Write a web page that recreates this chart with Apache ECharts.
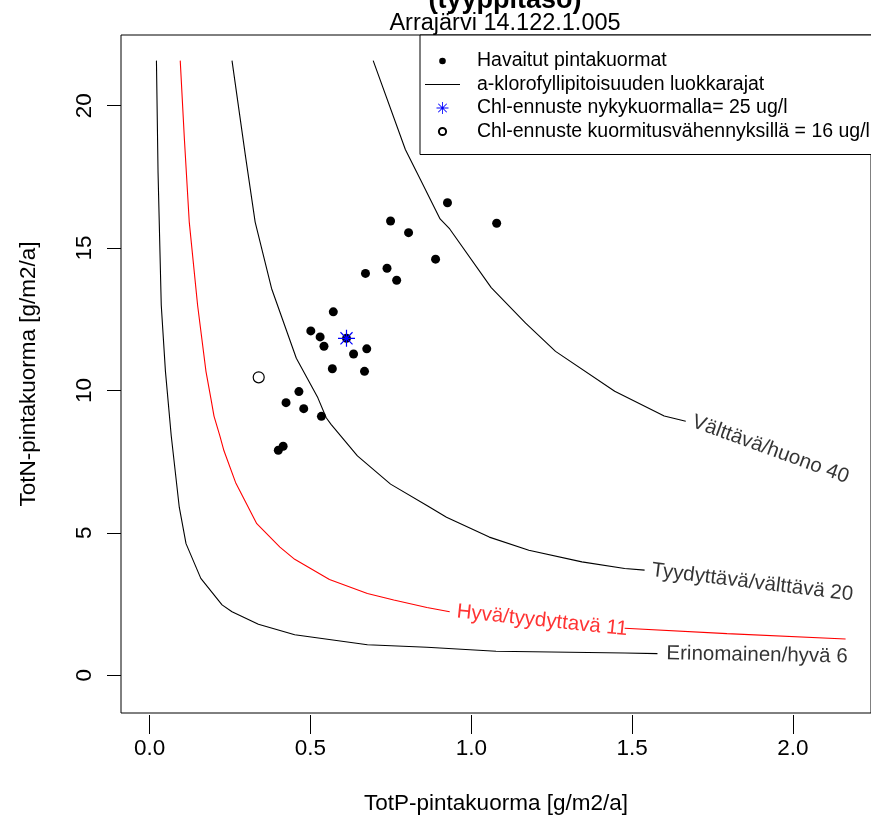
<!DOCTYPE html>
<html>
<head>
<meta charset="utf-8">
<script src="https://cdn.jsdelivr.net/npm/echarts@6/dist/echarts.min.js"></script>
<style>
  html, body { margin: 0; padding: 0; background: #fff; }
  #main { width: 871px; height: 820px; }
</style>
</head>
<body>
<div id="main"></div>
<script>
// havaitut pintakuormat (TotP, TotN)
var obsP = [0.926, 0.749, 0.805, 1.079, 0.889, 0.671, 0.738, 0.768, 0.571, 0.501, 0.530, 0.542,
            0.634, 0.675, 0.568, 0.668, 0.464, 0.424, 0.479, 0.534, 0.400, 0.415, 0.612];
var obsN = [16.59, 15.95, 15.54, 15.87, 14.61, 14.11, 14.29, 13.87, 12.76, 12.09, 11.88, 11.55,
            11.28, 11.46, 10.76, 10.67, 9.96, 9.57, 9.36, 9.09, 7.90, 8.04, 11.83];

// ennusteet
var nowPoint = [0.612, 11.83];
var reducedPoint = [0.339, 10.46];

// luokkarajat (contour lines)
var curve6 = [[0.021, 21.58], [0.026, 17.65], [0.036, 12.99], [0.049, 10.67], [0.067, 8.41],
  [0.092, 5.90], [0.113, 4.62], [0.159, 3.40], [0.225, 2.47], [0.256, 2.23], [0.338, 1.79],
  [0.451, 1.42], [0.677, 1.07], [0.862, 0.98], [1.077, 0.84], [1.477, 0.78], [1.579, 0.76]];
var curve11a = [[0.095, 21.58], [0.108, 18.81], [0.123, 15.92], [0.149, 12.99], [0.175, 10.67],
  [0.190, 9.74], [0.200, 9.10], [0.218, 8.41], [0.231, 7.88], [0.267, 6.77], [0.333, 5.32],
  [0.405, 4.50], [0.451, 4.07], [0.559, 3.36], [0.677, 2.87], [0.759, 2.64], [0.862, 2.38],
  [0.933, 2.23]];
var curve11b = [[1.477, 1.65], [1.795, 1.46], [2.164, 1.27]];
var curve20 = [[0.256, 21.58], [0.298, 18.22], [0.328, 15.91], [0.379, 13.58], [0.456, 11.13],
  [0.523, 9.74], [0.549, 9.04], [0.564, 8.81], [0.646, 7.70], [0.749, 6.71], [0.862, 5.96],
  [0.923, 5.55], [1.056, 4.85], [1.179, 4.39], [1.344, 3.98], [1.477, 3.75], [1.539, 3.69]];
var curve40 = [[0.695, 21.58], [0.795, 18.46], [0.841, 17.42], [0.903, 16.02], [0.933, 15.67],
  [1.062, 13.61], [1.169, 12.36], [1.262, 11.37], [1.446, 9.97], [1.600, 9.10], [1.667, 8.92]];

// käyrien nimet ja paikat
var curveLabels = ["Erinomainen/hyvä 6", "Hyvä/tyydyttavä 11", "Tyydyttävä/välttävä 20", "Välttävä/huono 40"];
var labelAt = [[1.579, 0.76], [0.933, 2.23], [1.539, 3.69], [1.667, 8.92]];
var labelAngle = [-1, -6, -7, -20];

var xTicks = [0, 0.5, 1, 1.5, 2];
var yTicks = [0, 5, 10, 15, 20];

var legendNames = ["Havaitut pintakuormat", "a-klorofyllipitoisuuden luokkarajat",
  "Chl-ennuste nykykuormalla= 25 ug/l", "Chl-ennuste kuormitusvähennyksillä = 16 ug/l"];

var FONT = "Liberation Sans, Arial, sans-serif";
var starPath = "path://M-0.07,-1 L0.07,-1 L0.07,1 L-0.07,1 Z M-1,-0.07 L1,-0.07 L1,0.07 L-1,0.07 Z " +
  "M-0.66,-0.76 L0.76,0.66 L0.66,0.76 L-0.76,-0.66 Z M0.66,-0.76 L0.76,-0.66 L-0.66,0.76 L-0.76,0.66 Z";
// pienempi pallo legendaan (tyhjät kulmapisteet kasvattavat rajausta)
var smallDot = "path://M-1,-1 L-1,-1 M1,1 L1,1 M0.55,0 A0.55,0.55 0 1 1 -0.55,0 A0.55,0.55 0 1 1 0.55,0 Z";
var smallRing = "path://M-1,-1 L-1,-1 M1,1 L1,1 M0.6,0 A0.6,0.6 0 1 1 -0.6,0 A0.6,0.6 0 1 1 0.6,0 Z";

var obsData = [];
for (var i = 0; i < obsP.length; i++) obsData.push([obsP[i], obsN[i]]);

var labelData = [];
for (var j = 0; j < curveLabels.length; j++) {
  labelData.push({
    name: curveLabels[j],
    value: labelAt[j],
    label: {
      rotate: labelAngle[j],
      distance: j == 0 ? 9 : 7,
      color: j == 1 ? "#ff0000" : "#000"
    }
  });
}

function contour(data, color) {
  return {
    name: legendNames[1],
    type: "line",
    data: data,
    symbol: "none",
    smooth: false,
    silent: true,
    lineStyle: { color: color, width: 1.1 },
    itemStyle: { color: color },
    z: 2
  };
}

var myChart = echarts.init(document.getElementById("main"));
myChart.setOption({
  animation: false,
  backgroundColor: "#fff",
  textStyle: { fontFamily: FONT },
  title: [
    {
      text: "(tyyppitaso)",
      left: 500,
      textAlign: "center",
      top: -18,
      textStyle: { fontFamily: FONT, fontSize: 27, fontWeight: "bold", color: "#000" }
    },
    {
      text: "Arrajärvi 14.122.1.005",
      left: 500,
      textAlign: "center",
      top: 7,
      textStyle: { fontFamily: FONT, fontSize: 23.5, fontWeight: "normal", color: "#000" }
    }
  ],
  legend: {
    data: [
      { name: legendNames[0], icon: smallDot },
      { name: legendNames[1], icon: "path://M0,0 L35,0 L35,1 L0,1 Z" },
      { name: legendNames[2] },
      { name: legendNames[3], icon: smallRing }
    ],
    orient: "vertical",
    left: 420,
    top: 35,
    width: 500,
    padding: [16, 440, 13, 5],
    itemGap: 3.5,
    itemWidth: 35,
    itemHeight: 12,
    borderColor: "#000",
    borderWidth: 1,
    borderRadius: 0,
    backgroundColor: "#fff",
    selectedMode: false,
    textStyle: { fontFamily: FONT, fontSize: 19.5, lineHeight: 19.5, color: "#000", padding: [0, 0, 0, 12] }
  },
  grid: {
    left: 121,
    top: 35,
    right: -8,
    bottom: 103,
    show: true,
    borderColor: "#000",
    borderWidth: 1,
    backgroundColor: "transparent"
  },
  xAxis: {
    type: "value",
    min: -0.0892,
    max: 2.243,
    offset: 2,
    name: "TotP-pintakuorma [g/m2/a]",
    nameLocation: "middle",
    nameGap: 77,
    nameTextStyle: { fontFamily: FONT, fontSize: 22.5, color: "#000" },
    axisLine: { show: false, onZero: false },
    splitLine: { show: false },
    axisTick: { show: true, length: 19, customValues: xTicks, lineStyle: { color: "#000" } },
    axisLabel: {
      customValues: xTicks,
      margin: 22,
      fontFamily: FONT,
      fontSize: 22.5,
      color: "#000",
      formatter: function (v) { return v.toFixed(1); }
    }
  },
  yAxis: {
    type: "value",
    min: -1.326,
    max: 22.48,
    name: "TotN-pintakuorma [g/m2/a]",
    nameLocation: "middle",
    nameGap: 81,
    nameTextStyle: { fontFamily: FONT, fontSize: 22.5, color: "#000" },
    axisLine: { show: false, onZero: false },
    splitLine: { show: false },
    axisTick: { show: true, length: 14, customValues: yTicks, lineStyle: { color: "#000" } },
    axisLabel: {
      customValues: yTicks,
      rotate: 90,
      margin: 25,
      fontFamily: FONT,
      fontSize: 22.5,
      color: "#000"
    }
  },
  series: [
    contour(curve6, "#000"),
    contour(curve11a, "#ff0000"),
    contour(curve11b, "#ff0000"),
    contour(curve20, "#000"),
    contour(curve40, "#000"),
    {
      name: legendNames[0],
      type: "scatter",
      data: obsData,
      symbol: "circle",
      symbolSize: 9,
      itemStyle: { color: "#000", opacity: 1 },
      z: 3
    },
    {
      name: legendNames[2],
      type: "scatter",
      data: [nowPoint],
      symbol: starPath,
      symbolSize: 17,
      itemStyle: { color: "#0000ff", opacity: 1 },
      z: 4
    },
    {
      name: legendNames[3],
      type: "scatter",
      data: [reducedPoint],
      symbol: "circle",
      symbolSize: 11,
      itemStyle: { color: "#fff", borderColor: "#000", borderWidth: 1.2, opacity: 1 },
      z: 4
    },
    {
      name: "labels",
      type: "scatter",
      data: labelData,
      symbolSize: 0,
      silent: true,
      label: {
        show: true,
        position: "right",
        distance: 7,
        formatter: "{b}",
        fontFamily: FONT,
        fontSize: 20.5,
        color: "#000"
      },
      z: 5
    }
  ]
});
</script>
</body>
</html>
